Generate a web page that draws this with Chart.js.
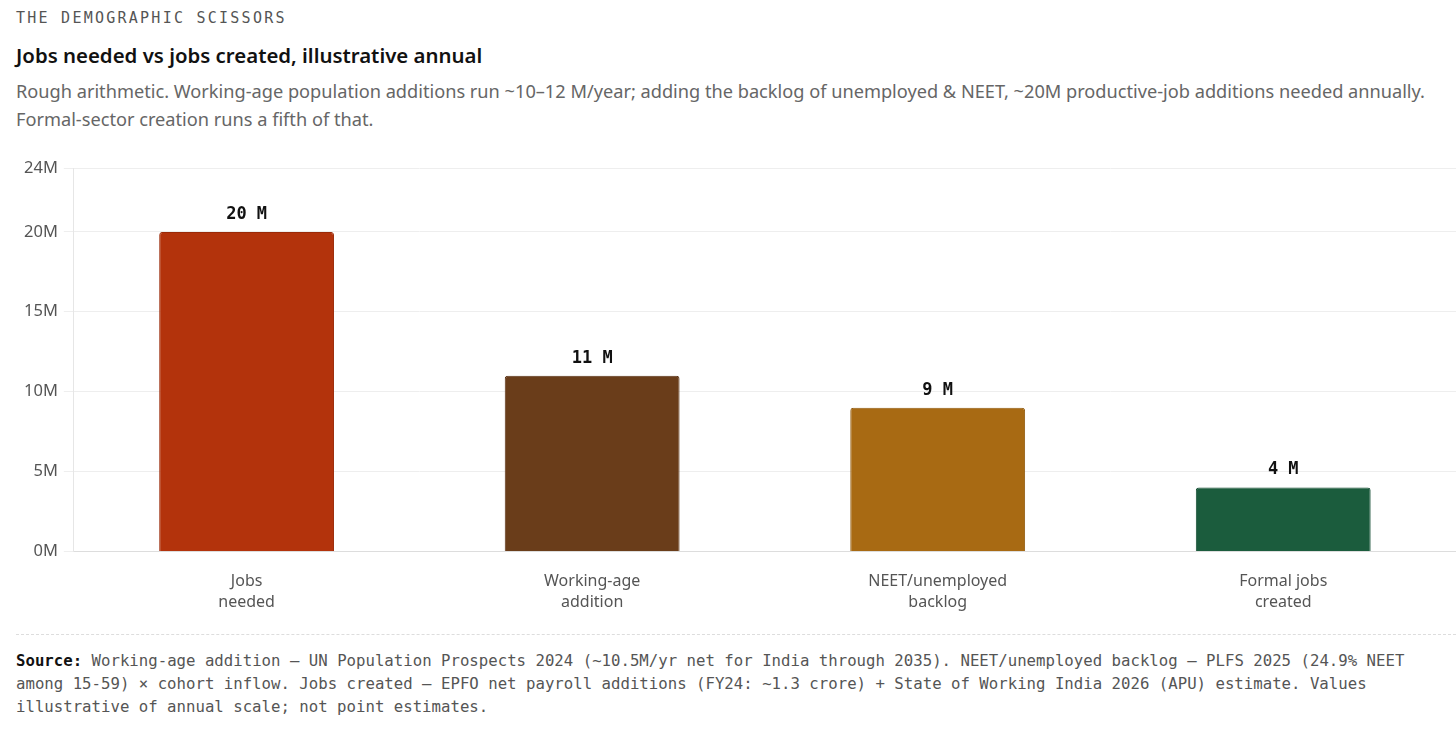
<!DOCTYPE html>
<html>
<head>
<meta charset="utf-8">
<script src="https://cdn.jsdelivr.net/npm/chart.js@4"></script>
<style>
  html, body { margin: 0; padding: 0; background: #fff; width: 1456px; height: 730px; overflow: hidden; }
  .kicker { position: absolute; left: 16px; top: 9px; font-family: "DejaVu Sans Mono", monospace; font-size: 15px; letter-spacing: 2.25px; color: #555; white-space: nowrap; }
  .title { position: absolute; left: 16px; top: 41px; font-family: "Noto Sans", sans-serif; font-weight: 600; font-size: 20.4px; color: #111; white-space: nowrap; }
  .sub { position: absolute; left: 16px; top: 77px; font-family: "Noto Sans", sans-serif; font-size: 18.2px; line-height: 28px; color: #666; white-space: nowrap; }
  .chartbox { position: absolute; left: 0; top: 150px; width: 1456px; height: 475px; }
  .sep { position: absolute; left: 16px; right: 0; top: 634px; border-top: 1px dashed #ddd; }
  .source { position: absolute; left: 16px; top: 649px; font-family: "DejaVu Sans Mono", monospace; font-size: 15.7px; line-height: 23px; color: #555; white-space: nowrap; }
  .source b { color: #111; }
</style>
</head>
<body>
<div class="kicker">THE DEMOGRAPHIC SCISSORS</div>
<div class="title">Jobs needed vs jobs created, illustrative annual</div>
<div class="sub">Rough arithmetic. Working-age population additions run ~10–12 M/year; adding the backlog of unemployed &amp; NEET, ~20M productive-job additions needed annually.<br>Formal-sector creation runs a fifth of that.</div>
<div class="chartbox"><canvas id="c"></canvas></div>
<div class="sep"></div>
<div class="source"><b>Source:</b> Working-age addition — UN Population Prospects 2024 (~10.5M/yr net for India through 2035). NEET/unemployed backlog — PLFS 2025 (24.9% NEET<br>among 15-59) × cohort inflow. Jobs created — EPFO net payroll additions (FY24: ~1.3 crore) + State of Working India 2026 (APU) estimate. Values<br>illustrative of annual scale; not point estimates.</div>
<script>
const categories = [["Jobs", "needed"], ["Working-age", "addition"], ["NEET/unemployed", "backlog"], ["Formal jobs", "created"]];
const valuesMillions = [20, 11, 9, 4];
const barLabels = ["20 M", "11 M", "9 M", "4 M"];
const barColors = ["#B3330C", "#6A3D1A", "#A86A13", "#1B5C3D"];
const borderColors = ["#9A2A08", "#5A3215", "#925B0F", "#154D33"];
const yTicks = [0, 5, 10, 15, 20, 24];

const labelPlugin = {
  id: "barLabels",
  afterDatasetsDraw(chart) {
    const ctx = chart.ctx;
    const meta = chart.getDatasetMeta(0);
    ctx.save();
    ctx.font = "bold 17px 'DejaVu Sans Mono', monospace";
    ctx.fillStyle = "#111";
    ctx.textAlign = "center";
    ctx.textBaseline = "bottom";
    meta.data.forEach((bar, i) => {
      ctx.fillText(barLabels[i], bar.x, bar.y - 9);
    });
    ctx.restore();
  }
};

new Chart(document.getElementById("c"), {
  type: "bar",
  data: {
    labels: categories,
    datasets: [{
      data: valuesMillions,
      backgroundColor: barColors,
      borderColor: borderColors,
      borderWidth: 1,
      borderRadius: 3,
      borderSkipped: "bottom",
      categoryPercentage: 1,
      barPercentage: 0.506
    }]
  },
  options: {
    responsive: true,
    maintainAspectRatio: false,
    animation: false,
    layout: { padding: { left: 18, right: 0, top: 18, bottom: 0 } },
    plugins: { legend: { display: false }, tooltip: { enabled: false } },
    scales: {
      x: {
        grid: { display: false },
        border: { color: "#ddd" },
        ticks: { color: "#555", font: { family: "'Noto Sans', sans-serif", size: 16, lineHeight: 1.3 }, padding: 12, maxRotation: 0 }
      },
      y: {
        min: 0, max: 24,
        afterBuildTicks(axis) { axis.ticks = yTicks.map(v => ({ value: v })); },
        grid: { color: "#eee", tickLength: 10 },
        border: { color: "#e6e6e6" },
        ticks: {
          color: "#555",
          font: { family: "'Noto Sans', sans-serif", size: 16.5 },
          padding: 6,
          callback: v => v + "M"
        }
      }
    }
  },
  plugins: [labelPlugin]
});
</script>
</body>
</html>
